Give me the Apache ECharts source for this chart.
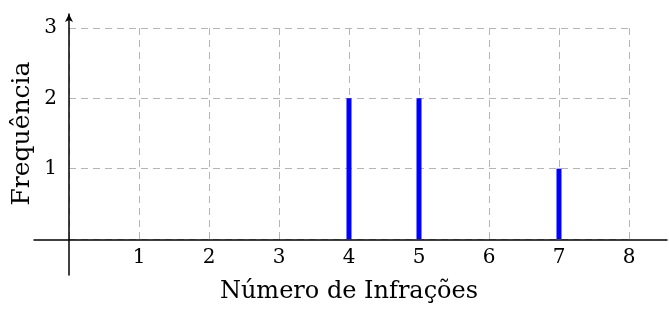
<!DOCTYPE html>
<html>
<head>
<meta charset="utf-8">
<script src="https://cdn.jsdelivr.net/npm/echarts@6/dist/echarts.min.js"></script>
<style>
  html, body { margin: 0; padding: 0; background: #fff; }
  #chart { width: 669px; height: 309px; }
</style>
</head>
<body>
<div id="chart"></div>
<script>
  // number of infractions and how often each happened
  const infracoes = [4, 5, 7];
  const frequencia = [2, 2, 1];
  const xTicks = [1, 2, 3, 4, 5, 6, 7, 8];
  const yTicks = [1, 2, 3];

  const serif = 'DejaVu Serif';
  const hideZero = v => (v === 0 ? '' : String(v));

  const chart = echarts.init(document.getElementById('chart'));
  const option = {
    animation: false,
    backgroundColor: '#fff',
    grid: [
      // plot area [0,8] x [0,3]
      { left: 69, right: 40, top: 28, bottom: 69 },
      // extended axis lines
      { left: 34, right: 2, top: 14, bottom: 34 }
    ],
    xAxis: [
      {
        gridIndex: 0,
        type: 'value',
        min: 0,
        max: xTicks[xTicks.length - 1],
        interval: 1,
        axisLine: { show: false },
        axisTick: { show: false },
        axisLabel: {
          formatter: hideZero,
          fontFamily: serif,
          fontSize: 20,
          color: '#000',
          margin: 9
        },
        splitLine: {
          show: true,
          lineStyle: { color: '#b5b5b5', type: [7, 5], width: 1 }
        },
        name: 'Número de Infrações',
        nameLocation: 'middle',
        nameGap: 41,
        nameMoveOverlap: false,
        nameTextStyle: { fontFamily: serif, fontSize: 24, color: '#000' }
      },
      {
        gridIndex: 1,
        type: 'value',
        min: -0.5,
        max: 8.543,
        axisLine: { show: true, onZero: true, lineStyle: { color: '#000', width: 1.5 } },
        axisTick: { show: false },
        axisLabel: { show: false },
        splitLine: { show: false }
      }
    ],
    yAxis: [
      {
        gridIndex: 0,
        type: 'value',
        min: 0,
        max: yTicks[yTicks.length - 1],
        interval: 1,
        axisLine: { show: false },
        axisTick: { show: false },
        axisLabel: {
          formatter: hideZero,
          fontFamily: serif,
          fontSize: 20,
          color: '#000',
          margin: 12
        },
        splitLine: {
          show: true,
          lineStyle: { color: '#b5b5b5', type: [7, 5], width: 1 }
        },
        name: 'Frequência',
        nameLocation: 'middle',
        nameGap: 34,
        nameMoveOverlap: false,
        nameTextStyle: { fontFamily: serif, fontSize: 25, color: '#000' }
      },
      {
        gridIndex: 1,
        type: 'value',
        min: -0.495,
        max: 3.198,
        axisLine: {
          show: true,
          onZero: true,
          symbol: ['none', 'arrow'],
          symbolSize: [6, 8],
          lineStyle: { color: '#000', width: 1.5 }
        },
        axisTick: { show: false },
        axisLabel: { show: false },
        splitLine: { show: false }
      }
    ],
    series: [
      {
        type: 'bar',
        xAxisIndex: 0,
        yAxisIndex: 0,
        barWidth: 5,
        z: 5,
        itemStyle: { color: '#0000ff' },
        data: infracoes.map((x, i) => [x, frequencia[i]])
      }
    ]
  };
  chart.setOption(option);
</script>
</body>
</html>
